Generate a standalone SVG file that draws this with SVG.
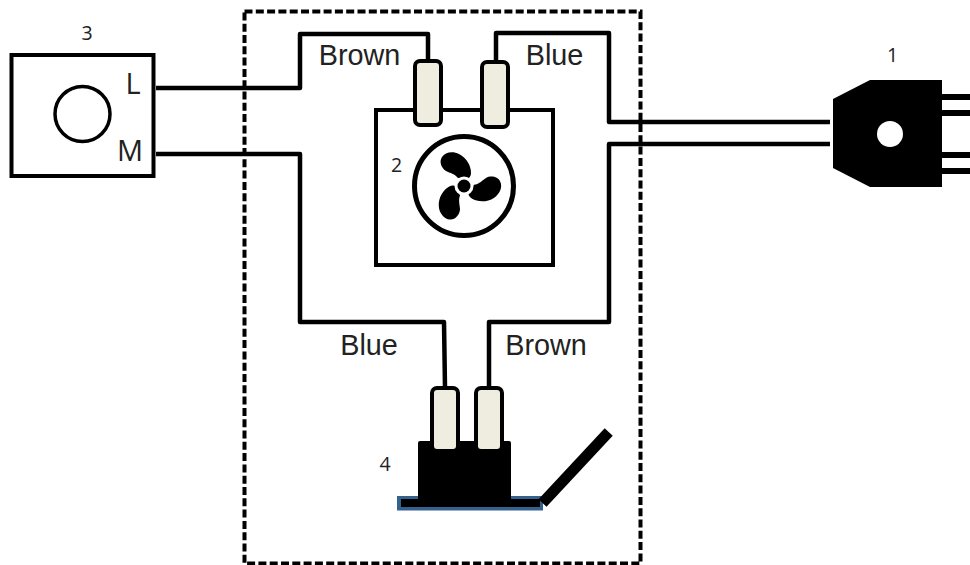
<svg xmlns="http://www.w3.org/2000/svg" width="970" height="565" viewBox="0 0 970 565">
<defs>
<style>
.w{fill:none;stroke:#000;stroke-width:4.500;stroke-linejoin:round}
.box{fill:#fff;stroke:#000;stroke-width:4}
.term{fill:#eeeddf;stroke:#000;stroke-width:4}
.lab{font-family:"Liberation Sans",Arial,sans-serif;font-size:28.800px;fill:#222}
.num{font-family:"Open Sans","Noto Sans",sans-serif;font-size:19.500px;fill:#222}
.big{font-family:"Open Sans","Noto Sans",sans-serif;font-size:29px;fill:#222}
</style>
<path id="blade" d="M-6,-8 C-9,-12 -14,-13 -18,-15 C-23,-18 -25,-25 -22,-29 C-19,-34 -11,-35 -5,-32 C3,-28 7,-20 7,-13 C7,-11 6,-9 5,-8 Z" fill="#000"/>
</defs>
<rect width="970" height="565" fill="#fff"/>
<g id="connectors">
<path class="w" d="M156,88 H300 V34 H428 V60"/>
<path class="w" d="M496,60 V33 H609 V122 H830"/>
<path class="w" d="M156,154 H300 V322 H444 L445,388"/>
<path class="w" d="M489,388 V322 H609 V144 H830"/>
</g>
<rect id="boundary" x="244.500" y="11.500" width="396" height="552" fill="none" stroke="#000" stroke-width="4" stroke-dasharray="8 3.300"/>
<g id="node-1">
<path d="M833,99 L870,80 H942 V187 H870 L833,168 Z" fill="#000"/>
<circle cx="890" cy="134" r="13" fill="#fff"/>
<path d="M942,97 H970 M942,113 H970 M942,155 H970 M942,171 H970" stroke="#000" stroke-width="6" fill="none"/>
<text class="num" x="892.500" y="62" text-anchor="middle">1</text>
</g>
<g id="node-2">
<rect class="box" x="376" y="110" width="177" height="155"/>
<rect class="term" x="415" y="61" width="26" height="64" rx="5"/>
<rect class="term" x="482" y="62" width="26" height="65" rx="5"/>
<circle cx="464" cy="186" r="49.500" fill="#fff" stroke="#000" stroke-width="5"/>
<g transform="translate(464,186)">
<use href="#blade"/>
<use href="#blade" transform="rotate(120)"/>
<use href="#blade" transform="rotate(240)"/>
</g>
<circle cx="464" cy="186" r="9.500" fill="#fff"/>
<circle cx="464" cy="186" r="6.500" fill="#000"/>
<text class="num" x="396.500" y="172" text-anchor="middle">2</text>
</g>
<g id="node-3">
<rect class="box" x="11.500" y="55" width="142" height="121"/>
<circle cx="82.500" cy="114" r="27.500" fill="none" stroke="#000" stroke-width="3.500"/>
<text class="big" x="133" y="94" text-anchor="middle">L</text>
<text class="big" x="130" y="161" text-anchor="middle">M</text>
<text class="num" x="87" y="40" text-anchor="middle">3</text>
</g>
<g id="node-4">
<rect x="397" y="496" width="146" height="14.500" fill="#35618f"/>
<rect x="401" y="499" width="139" height="8" fill="#000"/>
<rect x="418" y="441" width="93" height="64" rx="2" fill="#000"/>
<rect class="term" x="432" y="388" width="26" height="63" rx="5"/>
<rect class="term" x="476" y="388" width="26" height="63" rx="5"/>
<path d="M542.500,503 L608.700,432" stroke="#000" stroke-width="11" fill="none"/>
<text class="num" x="385" y="471" text-anchor="middle">4</text>
</g>
<text class="lab" x="359.500" y="65" text-anchor="middle">Brown</text>
<text class="lab" x="554.500" y="65" text-anchor="middle">Blue</text>
<text class="lab" x="369" y="354.500" text-anchor="middle">Blue</text>
<text class="lab" x="546" y="354.500" text-anchor="middle">Brown</text>
</svg>
